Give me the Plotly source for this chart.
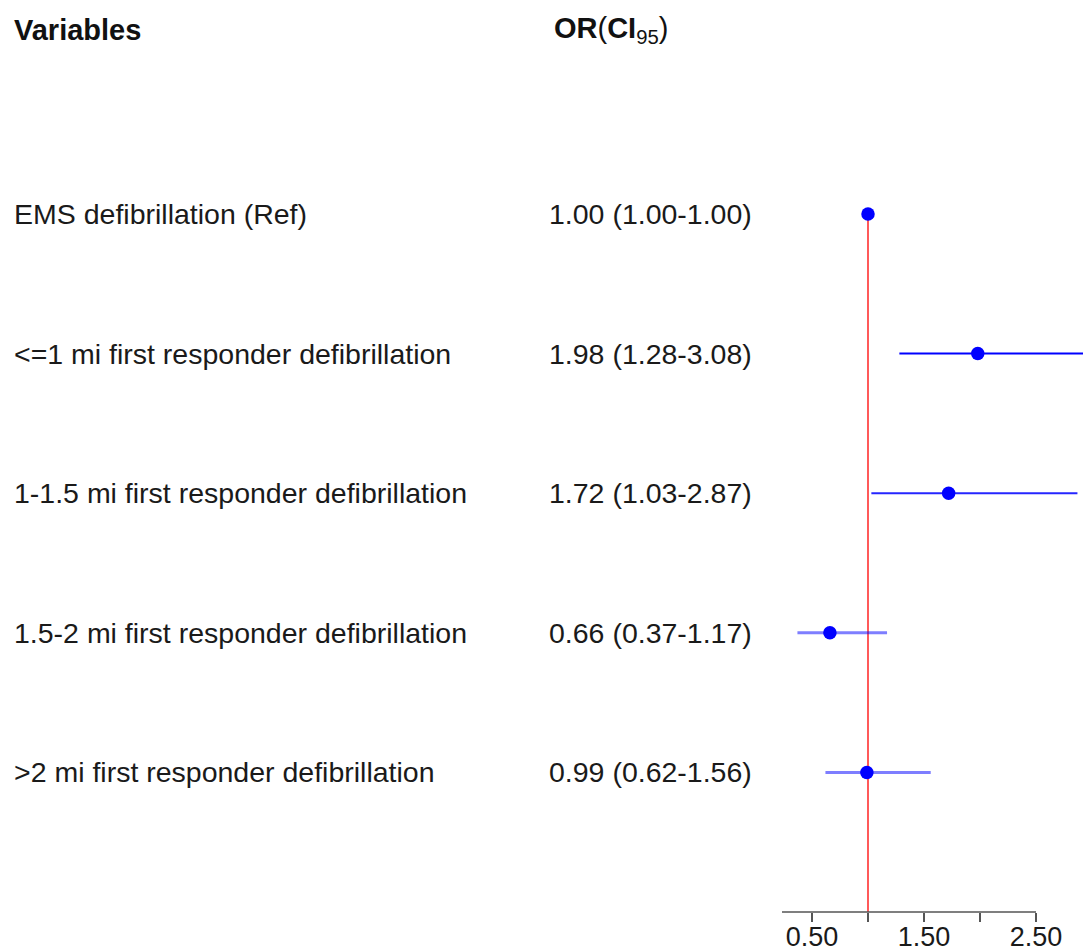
import plotly.graph_objects as go

# ---- data ----
variables = [
    "EMS defibrillation (Ref)",
    "<=1 mi first responder defibrillation",
    "1-1.5 mi first responder defibrillation",
    "1.5-2 mi first responder defibrillation",
    ">2 mi first responder defibrillation",
]
odds_ratio = [1.00, 1.98, 1.72, 0.66, 0.99]
ci_lower = [1.00, 1.28, 1.03, 0.37, 0.62]
ci_upper = [1.00, 3.08, 2.87, 1.17, 1.56]
ref_value = 1.0
tick_values = [0.5, 1.5, 2.5]
tick_labels = ["0.50", "1.50", "2.50"]
minor_step = 0.5

# ---- style (page has an 8px body margin, so figure coords = page coords - 8) ----
OFF = 8
W, H = 1091 - OFF, 951 - OFF
FONT = "Liberation Sans, Arial, sans-serif"
FS = 28.5
FS_HEAD = 29
line_opacity = [1.0, 1.0, 0.85, 0.5, 0.5]
line_width = [2, 2, 2, 3, 3]
PX_PER_UNIT = 112.0
PX_REF = 868.0 - OFF
AXIS_START_PX = 782 - OFF
ROW1_PX = 214 - OFF
ROW_SP = 139.6
HEADER_PX = 30 - OFF

def px_to_val(p):
    return ref_value + (p - PX_REF) / PX_PER_UNIT

n = len(variables)
ypos = list(range(n, 0, -1))

Y_TOP = n + ROW1_PX / ROW_SP
Y_BOT = Y_TOP - H / ROW_SP
Y_RANGE = [Y_BOT, Y_TOP]
HEADER_Y = Y_TOP - HEADER_PX / ROW_SP
X_RANGE = [px_to_val(AXIS_START_PX), px_to_val(W)]
X_DOMAIN = [AXIS_START_PX / W, 1]

fig = go.Figure()

for i in range(n):
    fig.add_trace(go.Scatter(
        x=[ci_lower[i], ci_upper[i]], y=[ypos[i], ypos[i]],
        mode="lines", line=dict(color="#0000ff", width=line_width[i]),
        opacity=line_opacity[i], hoverinfo="skip", showlegend=False,
    ))

fig.add_trace(go.Scatter(
    x=odds_ratio, y=ypos, mode="markers",
    marker=dict(color="#0000ff", size=13.5, line=dict(width=0)),
    showlegend=False, cliponaxis=False,
))

# reference line
fig.add_shape(type="line", xref="x", yref="y", x0=ref_value, x1=ref_value,
              y0=ypos[0], y1=0, line=dict(color="#ff3030", width=1.6), layer="below")
# axis line (stops at the last tick)
fig.add_shape(type="line", xref="x", yref="y", x0=X_RANGE[0], x1=max(tick_values),
              y0=0, y1=0, line=dict(color="#555555", width=1.6))

# text columns
for i in range(n):
    fig.add_annotation(x=4 / W, y=ypos[i], xref="paper", yref="y", xanchor="left",
                       yanchor="middle", showarrow=False, text=variables[i],
                       font=dict(family=FONT, size=FS, color="#1a1a1a"))
    fig.add_annotation(x=539 / W, y=ypos[i], xref="paper", yref="y", xanchor="left",
                       yanchor="middle", showarrow=False,
                       text=f"{odds_ratio[i]:.2f} ({ci_lower[i]:.2f}-{ci_upper[i]:.2f})",
                       font=dict(family=FONT, size=FS, color="#1a1a1a"))

fig.add_annotation(x=4 / W, y=HEADER_Y, xref="paper", yref="y", xanchor="left",
                   yanchor="middle", showarrow=False, text="<b>Variables</b>",
                   font=dict(family=FONT, size=FS_HEAD, color="#111111"))
fig.add_annotation(x=544 / W, y=HEADER_Y, xref="paper", yref="y", xanchor="left",
                   yanchor="middle", showarrow=False,
                   text="<b>OR</b>(<b>CI</b><sub>95</sub>)",
                   font=dict(family=FONT, size=FS_HEAD, color="#111111"))

axis_pos = (0 - Y_RANGE[0]) / (Y_RANGE[1] - Y_RANGE[0])

fig.update_layout(
    width=W, height=H,
    margin=dict(l=0, r=0, t=0, b=0),
    paper_bgcolor="white", plot_bgcolor="white",
    xaxis=dict(range=X_RANGE, domain=X_DOMAIN, anchor="free", position=axis_pos,
               tickvals=tick_values, ticktext=tick_labels, ticks="outside",
               ticklen=9, tickwidth=1.6, tickcolor="#555555", showline=False,
               showgrid=False, zeroline=False, automargin=False,
               ticklabelstandoff=-8,
               minor=dict(tick0=tick_values[0], dtick=minor_step, ticks="outside",
                          ticklen=9, tickwidth=1.6, tickcolor="#555555",
                          showgrid=False),
               tickfont=dict(family=FONT, size=27, color="#1a1a1a")),
    yaxis=dict(range=Y_RANGE, domain=[0, 1], showticklabels=False, ticks="",
               showline=False, showgrid=False, zeroline=False, automargin=False),
    showlegend=False,
)

fig.write_html("out.html", config={"displayModeBar": False})
